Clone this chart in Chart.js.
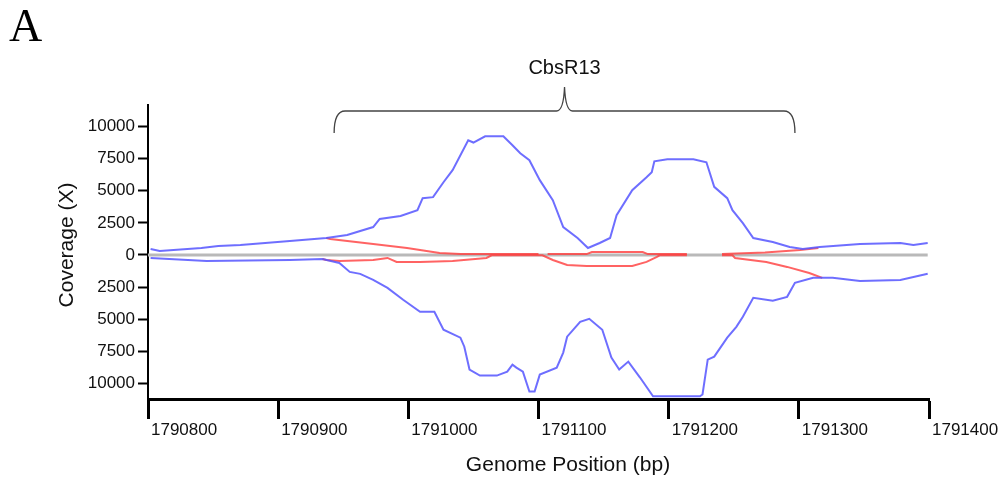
<!DOCTYPE html>
<html>
<head>
<meta charset="utf-8">
<script src="https://cdn.jsdelivr.net/npm/chart.js@4"></script>
<style>
  body { margin: 0; background: #fff; }
  canvas { display: block; }
</style>
</head>
<body>
<canvas id="coverage" width="1007" height="478"></canvas>
<script>
// positions in bp, coverage in X (minus strand negative)
const plusPos = [1790802, 1790809, 1790841, 1790854, 1790871, 1790909, 1790937, 1790953, 1790973, 1790978, 1790994, 1791007, 1791011, 1791019, 1791027, 1791034, 1791046, 1791050, 1791059, 1791073, 1791080, 1791086, 1791093, 1791101, 1791111, 1791119, 1791130, 1791138, 1791147, 1791155, 1791160, 1791172, 1791183, 1791187, 1791189, 1791199, 1791219, 1791229, 1791235, 1791245, 1791249, 1791257, 1791265, 1791280, 1791293, 1791303, 1791316, 1791347, 1791378, 1791388, 1791399];
const plusCov = [465, 310, 540, 700, 775, 1090, 1320, 1550, 2170, 2800, 3030, 3490, 4420, 4500, 5660, 6600, 8920, 8750, 9230, 9230, 8540, 7910, 7370, 5820, 4270, 2170, 1320, 540, 930, 1320, 3100, 5040, 6050, 6440, 7290, 7450, 7450, 7210, 5300, 4420, 3490, 2480, 1320, 1010, 620, 465, 620, 850, 930, 775, 930];

const minusPos = [1790802, 1790845, 1790909, 1790934, 1790947, 1790955, 1790963, 1790973, 1790984, 1790996, 1791009, 1791020, 1791027, 1791040, 1791043, 1791047, 1791055, 1791068, 1791076, 1791080, 1791083, 1791088, 1791093, 1791097, 1791101, 1791114, 1791119, 1791122, 1791132, 1791139, 1791149, 1791156, 1791162, 1791169, 1791178, 1791188, 1791224, 1791226, 1791230, 1791235, 1791245, 1791252, 1791257, 1791265, 1791280, 1791291, 1791297, 1791311, 1791326, 1791347, 1791378, 1791399];
const minusCov = [-233, -465, -390, -310, -620, -1320, -1470, -1940, -2560, -3490, -4420, -4420, -5820, -6440, -7140, -8920, -9390, -9390, -9080, -8540, -8770, -9080, -10630, -10630, -9310, -8770, -7600, -6360, -5200, -4970, -5820, -7990, -8920, -8300, -9540, -11000, -11000, -10860, -8150, -7910, -6440, -5590, -4810, -3340, -3570, -3260, -2170, -1780, -1780, -2020, -1940, -1470];

const redPlusPos = [1790937, 1790940, 1790973, 1790999, 1791009, 1791024, 1791040, 1791100, 1791103, 1791107, 1791137, 1791141, 1791180, 1791184, 1791214, 1791228, 1791241, 1791274, 1791301, 1791315];
const redPlusCov = [1320, 1240, 850, 540, 390, 155, 70, 70, null, 70, 70, 230, 230, 70, 70, null, 70, 200, 390, 540];

const redMinusPos = [1790934, 1790937, 1790947, 1790973, 1790984, 1790991, 1791009, 1791034, 1791060, 1791064, 1791103, 1791111, 1791122, 1791137, 1791172, 1791183, 1791191, 1791193, 1791214, 1791228, 1791241, 1791249, 1791251, 1791275, 1791291, 1791308, 1791318];
const redMinusCov = [-310, -390, -465, -390, -233, -543, -543, -465, -233, -30, -30, -390, -776, -853, -853, -543, -155, -30, -30, null, -30, -30, -233, -543, -930, -1400, -1780];

const zeroPos = [1790800, 1791399];
const zeroCov = [0, 0];

const xTickValues = [1790800, 1790900, 1791000, 1791100, 1791200, 1791300, 1791400];
const yTickValues = [-10000, -7500, -5000, -2500, 0, 2500, 5000, 7500, 10000];

const regionName = "CbsR13";
const regionStart = 1790943;
const regionEnd = 1791297;

const sans = "'Liberation Sans', Arial, sans-serif";

const toPoints = (pos, cov) => pos.map((p, i) => ({ x: p, y: cov[i] }));
const lineStyle = (color, width) => ({
  borderColor: color,
  borderWidth: width,
  pointRadius: 0,
  fill: false,
  tension: 0
});

// panel letter, brace over the sRNA, axis titles
const annotations = {
  id: "annotations",
  afterDraw(chart) {
    const ctx = chart.ctx;
    const xs = chart.scales.x;
    ctx.save();
    ctx.fillStyle = "#000";
    ctx.textBaseline = "alphabetic";

    ctx.font = "46px 'Liberation Serif', 'Times New Roman', serif";
    ctx.textAlign = "left";
    ctx.fillText("A", 9, 41);

    const left = xs.getPixelForValue(regionStart);
    const right = xs.getPixelForValue(regionEnd);
    const mid = (left + right) / 2;
    ctx.font = "20px " + sans;
    ctx.textAlign = "center";
    ctx.fillStyle = "#111";
    ctx.fillText(regionName, mid, 74);

    ctx.strokeStyle = "#444";
    ctx.lineWidth = 1.3;
    ctx.beginPath();
    ctx.moveTo(left, 133);
    ctx.quadraticCurveTo(left, 111, left + 11, 111);
    ctx.lineTo(mid - 8, 111);
    ctx.quadraticCurveTo(mid - 1, 111, mid, 87);
    ctx.quadraticCurveTo(mid + 1, 111, mid + 8, 111);
    ctx.lineTo(right - 11, 111);
    ctx.quadraticCurveTo(right, 111, right, 133);
    ctx.stroke();

    ctx.fillStyle = "#111";
    ctx.font = "21px " + sans;
    ctx.fillText("Genome Position (bp)", 568, 471);

    ctx.translate(67, 245);
    ctx.rotate(-Math.PI / 2);
    ctx.textBaseline = "middle";
    ctx.fillText("Coverage (X)", 0, 0);
    ctx.restore();
  }
};

new Chart(document.getElementById("coverage"), {
  type: "line",
  data: {
    datasets: [
      { label: "plus", data: toPoints(plusPos, plusCov), ...lineStyle("rgba(85,85,255,0.85)", 2) },
      { label: "minus", data: toPoints(minusPos, minusCov), ...lineStyle("rgba(85,85,255,0.85)", 2) },
      { label: "red plus", data: toPoints(redPlusPos, redPlusCov), ...lineStyle("rgba(255,60,60,0.8)", 2) },
      { label: "red minus", data: toPoints(redMinusPos, redMinusCov), ...lineStyle("rgba(255,60,60,0.8)", 2) },
      { label: "zero", data: toPoints(zeroPos, zeroCov), ...lineStyle("rgb(185,185,185)", 3) }
    ]
  },
  options: {
    responsive: false,
    animation: false,
    events: [],
    layout: { padding: { left: 48, right: 78, top: 105, bottom: 0 } },
    plugins: {
      legend: { display: false },
      tooltip: { enabled: false }
    },
    scales: {
      x: {
        type: "linear",
        min: 1790800,
        max: 1791400,
        afterBuildTicks: (s) => { s.ticks = xTickValues.map((v) => ({ value: v })); },
        afterFit: (s) => { s.height = 79; },
        ticks: {
          callback: (v) => String(v),
          align: "start",
          labelOffset: 3,
          padding: 1,
          maxRotation: 0,
          autoSkip: false,
          color: "#111",
          font: { size: 17, family: sans }
        },
        grid: { drawOnChartArea: false, tickLength: 20, tickColor: "#000", tickWidth: 3 },
        border: { color: "#000", width: 3 }
      },
      y: {
        min: -11210,
        max: 11670,
        afterBuildTicks: (s) => { s.ticks = yTickValues.map((v) => ({ value: v })); },
        afterFit: (s) => { s.width = 100; },
        ticks: {
          callback: (v) => String(Math.abs(v)),
          padding: 3,
          autoSkip: false,
          color: "#111",
          font: { size: 17, family: sans }
        },
        grid: { drawOnChartArea: false, tickLength: 10, tickColor: "#000", tickWidth: 2 },
        border: { color: "#000", width: 2 }
      }
    }
  },
  plugins: [annotations]
});
</script>
</body>
</html>
